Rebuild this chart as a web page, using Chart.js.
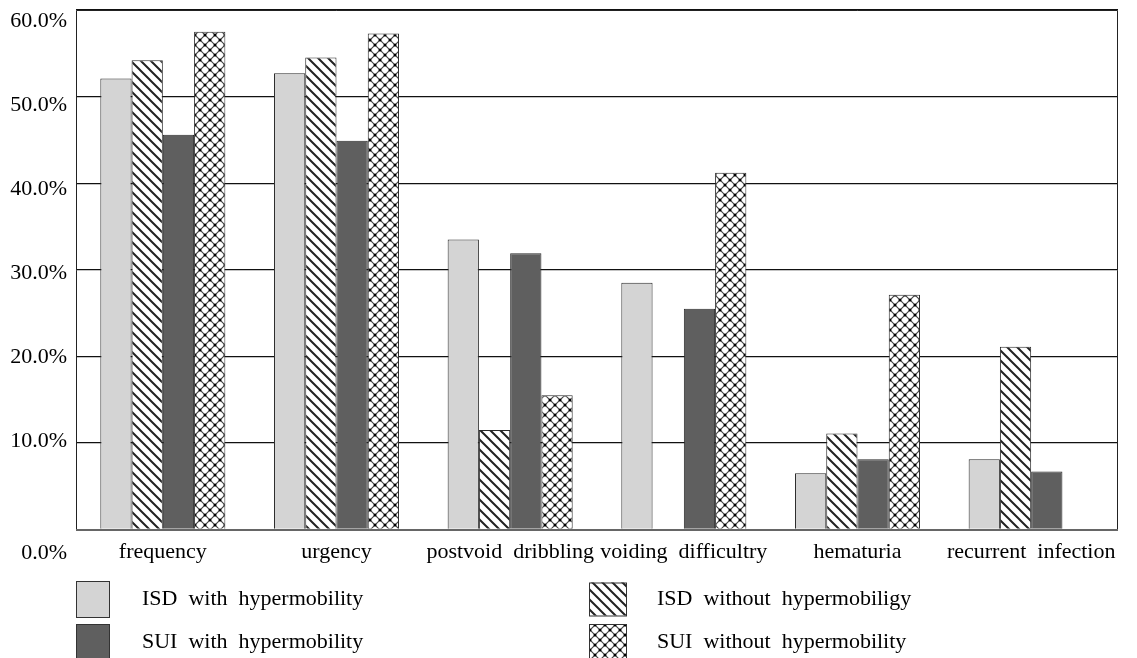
<!DOCTYPE html>
<html><head><meta charset="utf-8">
<script src="https://cdn.jsdelivr.net/npm/chart.js@4/dist/chart.umd.min.js"></script>
<style>html,body{margin:0;padding:0;background:#fff;}#wrap{width:1137px;height:658px;position:relative;overflow:hidden;}</style>
</head><body><div id="wrap"><canvas id="c" width="1137" height="658"></canvas></div>
<script>
const categories = ['frequency', 'urgency', 'postvoid  dribbling', 'voiding  difficultry', 'hematuria', 'recurrent  infection'];
const seriesNames = ['ISD with hypermobility', 'ISD without hypermobiligy', 'SUI with hypermobility', 'SUI without hypermobility'];
const isdWith    = [52.1, 52.7, 33.5, 28.5, 6.5, 8.1];
const isdWithout = [54.2, 54.5, 11.5, 0, 11.1, 21.1];
const suiWith    = [45.6, 44.9, 31.9, 25.5, 8.1, 6.7];
const suiWithout = [57.5, 57.3, 15.5, 41.2, 27.1, 0];
const yTicks = [0, 10, 20, 30, 40, 50, 60];
const yTickLabels = ['0.0%', '10.0%', '20.0%', '30.0%', '40.0%', '50.0%', '60.0%'];

const FONT = "'Liberation Serif', 'Times New Roman', serif";
const FS = 22;
const canvas = document.getElementById('c');
const ctx = canvas.getContext('2d');

function stripePattern() {
  const c = document.createElement('canvas'); c.width = c.height = 10;
  const x = c.getContext('2d');
  x.fillStyle = '#fff'; x.fillRect(0, 0, 10, 10);
  x.strokeStyle = '#222'; x.lineWidth = 2.0;
  x.beginPath();
  x.moveTo(-5, -5); x.lineTo(15, 15);
  x.moveTo(-5, 5); x.lineTo(5, 15);
  x.moveTo(5, -5); x.lineTo(15, 5);
  x.stroke();
  return ctx.createPattern(c, 'repeat');
}
function crossPattern() {
  const c = document.createElement('canvas'); c.width = c.height = 10;
  const x = c.getContext('2d');
  x.fillStyle = '#fff'; x.fillRect(0, 0, 10, 10);
  x.strokeStyle = '#444'; x.lineWidth = 1.2;
  x.beginPath();
  x.moveTo(-5, -5); x.lineTo(15, 15);
  x.moveTo(-5, 5); x.lineTo(5, 15);
  x.moveTo(5, -5); x.lineTo(15, 5);
  x.moveTo(15, -5); x.lineTo(-5, 15);
  x.moveTo(5, -5); x.lineTo(-5, 5);
  x.moveTo(15, 5); x.lineTo(5, 15);
  x.stroke();
  x.fillStyle = '#000';
  [[0,0],[10,0],[0,10],[10,10],[5,5]].forEach(p => { x.beginPath(); x.arc(p[0], p[1], 1.5, 0, Math.PI*2); x.fill(); });
  return ctx.createPattern(c, 'repeat');
}

const fills = ['#d4d4d4', stripePattern(), '#5f5f5f', crossPattern()];
const values = [isdWith, isdWithout, suiWith, suiWithout];

function noPad(s) { s.paddingTop = 0; s.paddingBottom = 0; s.paddingLeft = 0; s.paddingRight = 0; }

const frame = {
  id: 'frame',
  afterDraw(chart) {
    const a = chart.chartArea, c = chart.ctx;
    c.save();
    c.strokeStyle = '#222'; c.lineWidth = 1;
    c.beginPath();
    c.moveTo(Math.round(a.left) + 0.5, Math.round(a.bottom));
    c.lineTo(Math.round(a.left) + 0.5, Math.round(a.top) + 0.5);
    c.lineTo(Math.round(a.right) - 0.5, Math.round(a.top) + 0.5);
    c.lineTo(Math.round(a.right) - 0.5, Math.round(a.bottom));
    c.stroke();
    c.strokeStyle = '#666'; c.lineWidth = 2;
    c.beginPath(); c.moveTo(a.left, Math.round(a.bottom)); c.lineTo(a.right, Math.round(a.bottom)); c.stroke();
    // zero tick label (drawn below the axis like the original)
    c.fillStyle = '#000'; c.font = FS + 'px ' + FONT;
    c.textAlign = 'right'; c.textBaseline = 'middle';
    c.fillText(yTickLabels[0], 67, 553);
    // legend
    const items = [
      { x: 76, y: 581, w: 33, h: 36, tx: 142, ty: 599 },
      { x: 589, y: 582.5, w: 37, h: 33, tx: 657, ty: 599 },
      { x: 76, y: 624, w: 33, h: 36, tx: 142, ty: 642 },
      { x: 589, y: 624, w: 37, h: 36, tx: 657, ty: 642 }
    ];
    chart.data.datasets.forEach((ds, i) => {
      const it = items[i];
      c.fillStyle = ds.backgroundColor;
      c.fillRect(it.x, it.y, it.w, it.h);
      c.strokeStyle = '#333'; c.lineWidth = 1;
      c.strokeRect(it.x + 0.5, it.y + 0.5, it.w, it.h);
      c.fillStyle = '#000'; c.textAlign = 'left'; c.textBaseline = 'middle';
      c.fillText(ds.label.replace(/ /g, '  '), it.tx, it.ty);
    });
    c.restore();
  }
};

new Chart(canvas, {
  type: 'bar',
  data: {
    labels: categories,
    datasets: seriesNames.map((n, i) => ({
      label: n,
      data: values[i],
      backgroundColor: fills[i],
      borderColor: '#2a2a2a',
      borderWidth: 1,
      borderSkipped: 'bottom',
      categoryPercentage: 0.72,
      barPercentage: 1.0
    }))
  },
  options: {
    responsive: false,
    animation: false,
    layout: { autoPadding: false, padding: { top: 10, right: 19, left: 0, bottom: 0 } },
    plugins: { legend: { display: false }, tooltip: { enabled: false } },
    scales: {
      x: {
        grid: { display: false, drawTicks: false },
        border: { display: false },
        ticks: { padding: 10, color: '#000', font: { family: FONT, size: FS }, maxRotation: 0, autoSkip: false },
        afterFit(s) { s.height = 128.5; noPad(s); }
      },
      y: {
        min: 0, max: 60,
        afterBuildTicks(ax) { ax.ticks = yTicks.map(v => ({ value: v })); },
        grid: { color: '#111', lineWidth: 1.3, drawTicks: false },
        border: { display: false },
        ticks: { display: false },
        afterFit(s) { s.width = 0; noPad(s); }
      },
      yl: {
        position: 'left',
        min: -0.452, max: 61.31,
        afterBuildTicks(ax) { ax.ticks = yTicks.filter(v => v > 0).map(v => ({ value: v })); },
        grid: { display: false, drawTicks: false },
        border: { display: false },
        ticks: {
          padding: 9, color: '#000', font: { family: FONT, size: FS },
          callback: (v) => yTickLabels[yTicks.indexOf(v)]
        },
        afterFit(s) { s.width = 76; noPad(s); }
      }
    }
  },
  plugins: [frame]
});
</script>
</body></html>
